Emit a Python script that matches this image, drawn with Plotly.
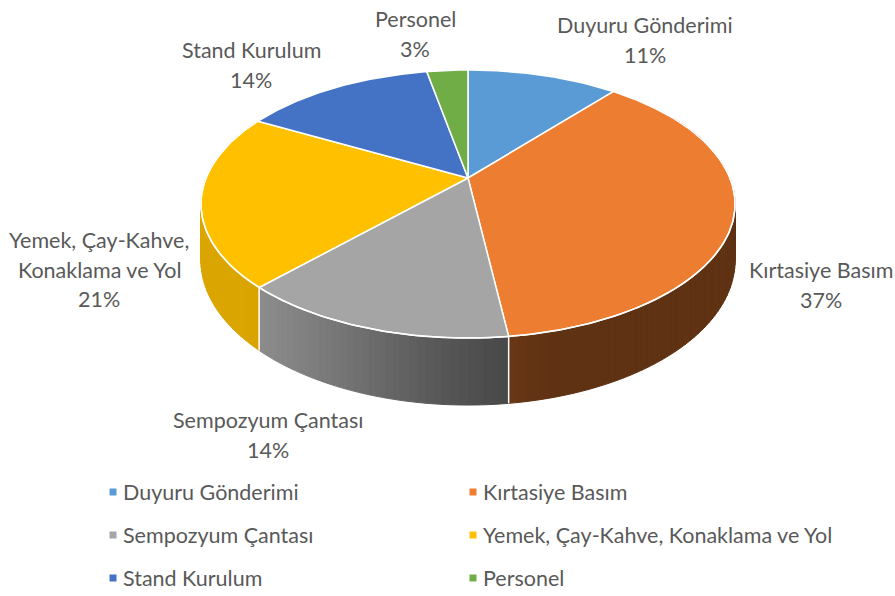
import numpy as np
import plotly.graph_objects as go

# data
categories = ["Duyuru Gönderimi", "Kırtasiye Basım", "Sempozyum Çantası",
              "Yemek, Çay-Kahve, Konaklama ve Yol", "Stand Kurulum", "Personel"]
shares = [11, 37, 14, 21, 14, 3]
colors = ["#5B9BD5", "#ED7D31", "#A5A5A5", "#FFC000", "#4472C4", "#70AD47"]
label_names = ["Duyuru Gönderimi", "Kırtasiye Basım", "Sempozyum Çantası",
               "Yemek, Çay-Kahve,<br>Konaklama ve Yol", "Stand Kurulum", "Personel"]

# layout of the drawing (pixels)
W, H_PX = 895, 596
CX, CY = 468, 178      # projected centre of the pie
A, B = 262, 129        # half axes of the top disk
E = 0.194              # perspective strength
DEPTH = 54             # thickness of the pie
TEXT = "#595959"
FONT = "Lato"
FONT_SIZE = 21.5

# label anchor (centre x, first line y) and line step
label_pos = [(645, 25), (821, 270), (268, 420), (99, 240), (251, 50), (415, 19)]
LINE_STEP = 29.7

# legend grid
legend_cols = [113, 473]
legend_rows = [492, 535, 578]


def rim(phi, drop=0.0):
    t = np.radians(np.asarray(phi, dtype=float))
    u, v = np.sin(t), -np.cos(t)
    d = 1 - E * v
    return CX + A * u / d, CY + (B * v + drop) / d


def shade(phi):
    s = np.clip((phi - 160) / 70, 0, 1)
    s = s * s * (3 - 2 * s)
    return 0.40 + 0.46 * s


def scaled(hex_color, f):
    r, g, b = (int(hex_color[i:i + 2], 16) for i in (1, 3, 5))
    return f"rgb({int(r * f)},{int(g * f)},{int(b * f)})"


bounds = np.concatenate([[0], np.cumsum(shares)]) / sum(shares) * 360

fig = go.Figure()

# side wall, drawn as thin strips so it can carry a gradient
for i, col in enumerate(colors):
    lo, hi = max(bounds[i], 60), min(bounds[i + 1], 300)
    if lo >= hi:
        continue
    edges = np.linspace(lo, hi, int(np.ceil((hi - lo) / 1.5)) + 1)
    for p0, p1 in zip(edges[:-1], edges[1:]):
        tx, ty = rim([p0, p1])
        bx, by = rim([p1, p0], DEPTH)
        c = scaled(col, shade((p0 + p1) / 2))
        fig.add_trace(go.Scatter(
            x=np.r_[tx, bx, tx[:1]], y=np.r_[ty, by, ty[:1]],
            mode="lines", fill="toself", fillcolor=c,
            line=dict(color=c, width=1), hoverinfo="skip", showlegend=False))

# white seams on the wall
for b in bounds:
    if 90 < b < 270:
        tx, ty = rim([b, b], np.array([0, DEPTH]))
        fig.add_trace(go.Scatter(x=tx, y=ty, mode="lines",
                                 line=dict(color="white", width=1.5),
                                 hoverinfo="skip", showlegend=False))

# top face slices
for i, col in enumerate(colors):
    arc = np.linspace(bounds[i], bounds[i + 1], max(4, int(bounds[i + 1] - bounds[i]) * 2))
    ax, ay = rim(arc)
    fig.add_trace(go.Scatter(
        x=np.r_[CX, ax, CX], y=np.r_[CY, ay, CY],
        mode="lines", fill="toself", fillcolor=col,
        line=dict(color="white", width=1.5),
        name=categories[i], text=f"{categories[i]}: {shares[i]}%",
        hoverinfo="text", hoveron="fills", showlegend=False))

# light edge where the top meets the wall
fx, fy = rim(np.linspace(75, 285, 200))
fig.add_trace(go.Scatter(x=fx, y=fy, mode="lines",
                         line=dict(color="white", width=1.5),
                         hoverinfo="skip", showlegend=False))

# data labels
for name, s, (lx, ly) in zip(label_names, shares, label_pos):
    lines = name.split("<br>") + [f"{s}%"]
    for k, line in enumerate(lines):
        fig.add_annotation(x=lx, y=ly + k * LINE_STEP, text=line, showarrow=False,
                           xanchor="center", yanchor="middle",
                           font=dict(family=FONT, size=FONT_SIZE, color=TEXT))

# legend (two columns, three rows)
for i, (name, col) in enumerate(zip(categories, colors)):
    lx = legend_cols[i % 2]
    ly = legend_rows[i // 2]
    fig.add_trace(go.Scatter(x=[lx], y=[ly], mode="markers",
                             marker=dict(symbol="square", size=7, color=col),
                             hoverinfo="skip", showlegend=False))
    fig.add_annotation(x=lx + 8, y=ly, text=name, showarrow=False,
                       xanchor="left", yanchor="middle",
                       font=dict(family=FONT, size=FONT_SIZE, color=TEXT))

fig.update_xaxes(range=[0, W], visible=False, fixedrange=True)
fig.update_yaxes(range=[H_PX, 0], visible=False, fixedrange=True)
fig.update_layout(
    width=W, height=H_PX,
    margin=dict(l=0, r=0, t=0, b=0),
    paper_bgcolor="white", plot_bgcolor="white",
    showlegend=False,
    hovermode="closest",
)

fig.write_html("out.html", config={"displayModeBar": False},
               post_script="document.body.style.margin='0';")
